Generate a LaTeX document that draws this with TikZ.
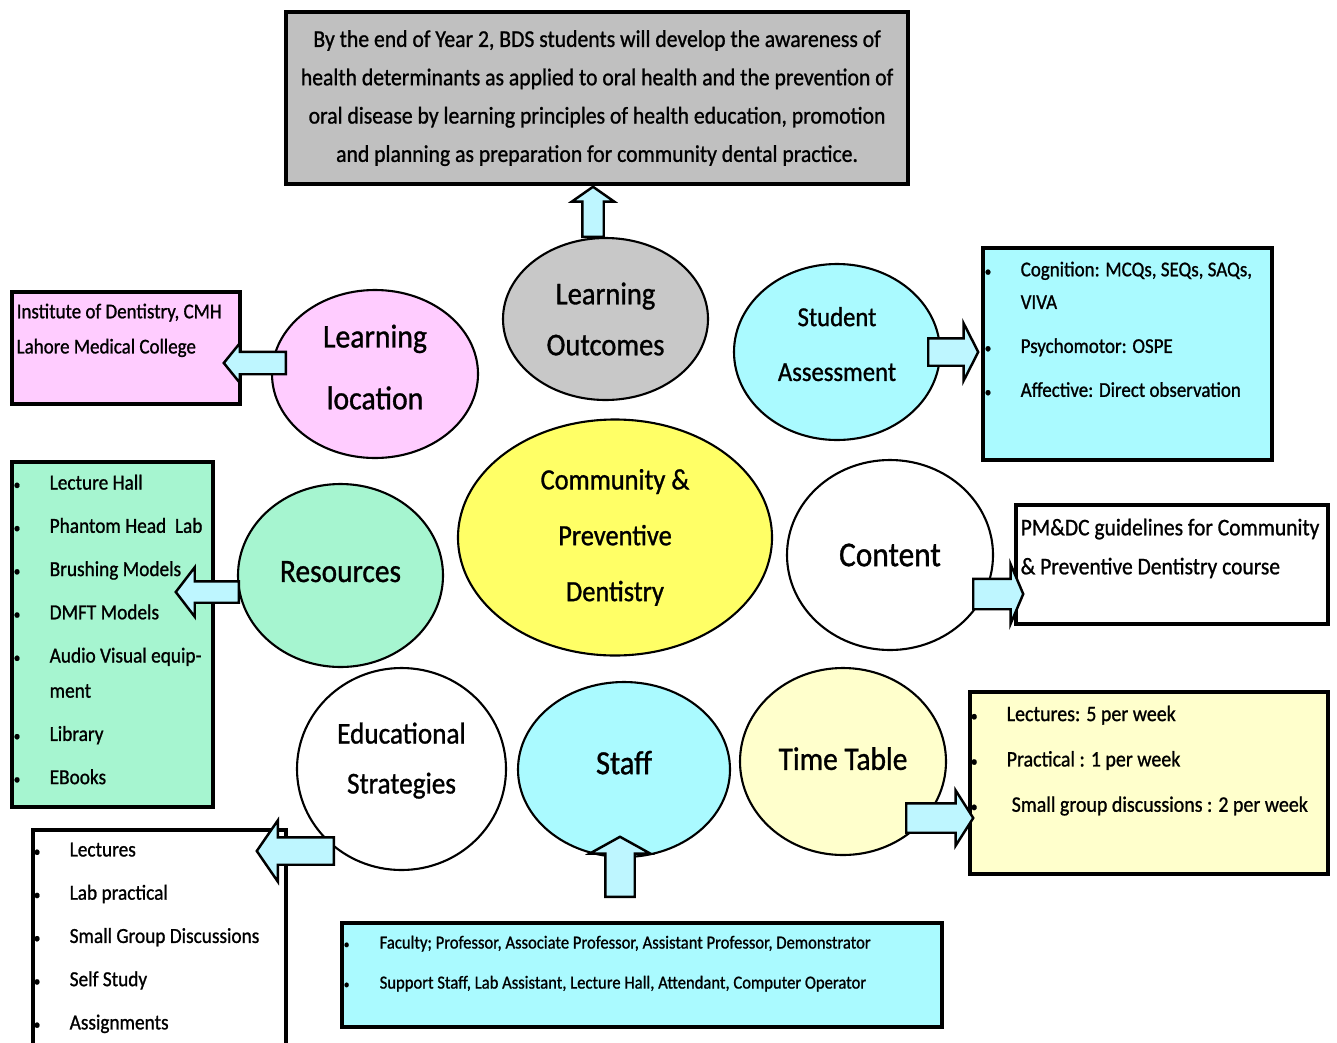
\documentclass[tikz,border=0pt]{standalone}
\usepackage{fontspec}
\setmainfont{Carlito}[FakeStretch=0.9, FakeBold=1.0]
\usetikzlibrary{shapes.geometric,shapes.arrows}

\definecolor{goalgray}{RGB}{192,192,192}
\definecolor{outgray}{RGB}{200,200,200}
\definecolor{pinkfill}{RGB}{255,204,255}
\definecolor{cyanfill}{RGB}{170,250,255}
\definecolor{mintfill}{RGB}{166,245,208}
\definecolor{corefill}{RGB}{255,255,102}
\definecolor{creamfill}{RGB}{255,255,204}
\definecolor{arrowcyan}{RGB}{190,246,255}

% bullet column of the lists
\newcommand\bul{\makebox[0.36cm][l]{\scalebox{0.7}{\textbullet}}}
\newcommand\cont{\hspace*{0.36cm}}

\begin{document}
\begin{tikzpicture}[
    bubble/.style={ellipse, draw, line width=0.6pt, inner sep=0pt, align=center,
      font=\fontsize{9.3}{16}\selectfont},
    infobox/.style={draw, line width=1pt, inner sep=0pt, anchor=north west},
    infotext/.style={anchor=north west, inner sep=0pt, align=left,
      font=\fontsize{6.1}{12.3}\selectfont},
    fatarrow/.style={single arrow, draw, fill=arrowcyan, line width=0.7pt,
      inner xsep=0pt, pos=0, sloped, allow upside down, anchor=tail}
  ]
  \fill[white] (0,0) rectangle (13.37,-10.42);
  \useasboundingbox (0,0) rectangle (13.37,-10.42);

  % outcome statement on top
  \node[infobox, fill=goalgray, line width=1.2pt, minimum width=6.22cm, minimum height=1.72cm,
        align=center, font=\fontsize{6.85}{10.9}\selectfont] (goal) at (2.84,-0.10)
    {By the end of Year 2, BDS students will develop the awareness of\\
     health determinants as applied to oral health and the prevention of\\
     oral disease by learning principles of health education, promotion\\
     and planning as preparation for community dental practice.};

  % boxes round the bubbles
  \node[infobox, fill=pinkfill, minimum width=2.28cm, minimum height=1.12cm] (placebox) at (0.10,-2.90) {};
  \node[infotext, font=\fontsize{6}{10}\selectfont] (placetext) at (0.16,-3.03)
    {Institute of Dentistry, CMH\\Lahore Medical College};

  \node[infobox, fill=cyanfill, minimum width=2.89cm, minimum height=2.12cm] (assessbox) at (9.81,-2.46) {};
  \node[infotext, font=\fontsize{6}{12.5}\selectfont] (assesstext) at (9.84,-2.61)
    {\bul Cognition: MCQs, SEQs, SAQs,\\[-3.2pt]\cont VIVA\\
     \bul Psychomotor: OSPE\\\bul Affective: Direct observation};

  \node[infobox, fill=mintfill, minimum width=2.01cm, minimum height=3.45cm] (resbox) at (0.10,-4.60) {};
  \node[infotext] (restext) at (0.13,-4.74)
    {\bul Lecture Hall\\\bul Phantom Head~ Lab\\\bul Brushing Models\\\bul DMFT Models\\
     \bul Audio Visual equip-\\[-2.3pt]\cont ment\\\bul Library\\\bul EBooks};

  \node[infobox, fill=white, minimum width=3.12cm, minimum height=1.19cm] (contentbox) at (10.14,-5.03) {};
  \node[infotext, font=\fontsize{6.8}{11.1}\selectfont] (contenttext) at (10.20,-5.18)
    {PM\&DC guidelines for Community\\\& Preventive Dentistry course};

  \node[infobox, fill=creamfill, minimum width=3.58cm, minimum height=1.82cm] (timebox) at (9.68,-6.90) {};
  \node[infotext, font=\fontsize{6.3}{12.9}\selectfont] (timetext) at (9.70,-7.05)
    {\bul Lectures: 5 per week\\\bul Practical : 1 per week\\
     \bul\hspace*{0.05cm}Small group discussions : 2 per week};

  \node[infobox, fill=white, minimum width=2.53cm, minimum height=2.20cm] (stratbox) at (0.31,-8.28) {};
  \node[infotext] (strattext) at (0.33,-8.42)
    {\bul Lectures\\\bul Lab practical\\\bul Small Group Discussions\\\bul Self Study\\\bul Assignments};

  \node[infobox, fill=cyanfill, minimum width=6.00cm, minimum height=1.04cm] (staffbox) at (3.40,-9.21) {};
  \node[infotext, font=\fontsize{5.25}{11.4}\selectfont] (stafftext) at (3.43,-9.35)
    {\bul Faculty; Professor, Associate Professor, Assistant Professor, Demonstrator\\
     \bul Support Staff, Lab Assistant, Lecture Hall, Attendant, Computer Operator};

  % the bubbles
  \node[bubble, fill=outgray, minimum width=2.05cm, minimum height=1.62cm,
        font=\fontsize{9}{14.5}\selectfont] (outcomes) at (6.055,-3.19) {Learning\\Outcomes};
  \node[bubble, fill=pinkfill, minimum width=2.06cm, minimum height=1.68cm, text depth=0.14cm,
        font=\fontsize{9.4}{17.6}\selectfont] (place) at (3.75,-3.74) {Learning\\location};
  \node[bubble, fill=cyanfill, minimum width=2.06cm, minimum height=1.76cm, text depth=0.16cm,
        font=\fontsize{7.8}{15.6}\selectfont] (assess) at (8.37,-3.52) {Student\\Assessment};
  \node[bubble, fill=corefill, minimum width=3.14cm, minimum height=2.36cm,
        font=\fontsize{8.35}{15.9}\selectfont] (core) at (6.15,-5.375) {Community \&\\Preventive\\Dentistry};
  \node[bubble, fill=mintfill, minimum width=2.05cm, minimum height=1.83cm, text depth=0.08cm] (res) at (3.405,-5.755) {Resources};
  \node[bubble, fill=white, minimum width=2.06cm, minimum height=1.90cm,
        font=\fontsize{9.9}{16}\selectfont] (content) at (8.90,-5.55) {Content};
  \node[bubble, fill=white, minimum width=2.09cm, minimum height=2.02cm, text depth=0.22cm,
        font=\fontsize{8.6}{14.2}\selectfont] (strat) at (4.015,-7.69) {Educational\\Strategies};
  \node[bubble, fill=cyanfill, minimum width=2.12cm, minimum height=1.75cm, text depth=0.14cm,
        font=\fontsize{9.6}{16}\selectfont] (staff) at (6.24,-7.695) {Staff};
  \node[bubble, fill=creamfill, minimum width=2.06cm, minimum height=1.87cm, text depth=0.06cm] (time) at (8.43,-7.615) {Time Table};

  % block arrows
  \coordinate (upTail) at (5.93,-2.38);      \coordinate (upTip) at (5.93,-1.88);
  \coordinate (placeTail) at (2.87,-3.63);   \coordinate (placeTip) at (2.25,-3.63);
  \coordinate (assessTail) at (9.27,-3.52);  \coordinate (assessTip) at (9.77,-3.52);
  \coordinate (resTail) at (2.40,-5.92);     \coordinate (resTip) at (1.77,-5.92);
  \coordinate (contentTail) at (9.72,-5.94); \coordinate (contentTip) at (10.22,-5.94);
  \coordinate (timeTail) at (9.05,-8.18);    \coordinate (timeTip) at (9.72,-8.18);
  \coordinate (stratTail) at (3.35,-8.51);   \coordinate (stratTip) at (2.58,-8.51);
  \coordinate (staffTail) at (6.20,-8.98);   \coordinate (staffTip) at (6.20,-8.38);

  \path (upTail) -- node[fatarrow, minimum height=0.50cm, inner ysep=0.095cm,
        single arrow head extend=0.105cm, single arrow tip angle=110] (upArrow) {} (upTip);
  \path (placeTail) -- node[fatarrow, minimum height=0.62cm, inner ysep=0.10cm,
        single arrow head extend=0.085cm, single arrow tip angle=102] (placeArrow) {} (placeTip);
  \path (assessTail) -- node[fatarrow, minimum height=0.50cm, inner ysep=0.125cm,
        single arrow head extend=0.15cm, single arrow tip angle=126] (assessArrow) {} (assessTip);
  \path (resTail) -- node[fatarrow, minimum height=0.63cm, inner ysep=0.095cm,
        single arrow head extend=0.14cm, single arrow tip angle=105] (resArrow) {} (resTip);
  \path (contentTail) -- node[fatarrow, minimum height=0.50cm, inner ysep=0.14cm,
        single arrow head extend=0.145cm, single arrow tip angle=134] (contentArrow) {} (contentTip);
  \path (timeTail) -- node[fatarrow, minimum height=0.67cm, inner ysep=0.135cm,
        single arrow head extend=0.13cm, single arrow tip angle=115] (timeArrow) {} (timeTip);
  \path (stratTail) -- node[fatarrow, minimum height=0.77cm, inner ysep=0.125cm,
        single arrow head extend=0.17cm, single arrow tip angle=111] (stratArrow) {} (stratTip);
  \path (staffTail) -- node[fatarrow, minimum height=0.60cm, inner ysep=0.135cm,
        single arrow head extend=0.155cm, single arrow tip angle=122] (staffArrow) {} (staffTip);
\end{tikzpicture}
\end{document}
